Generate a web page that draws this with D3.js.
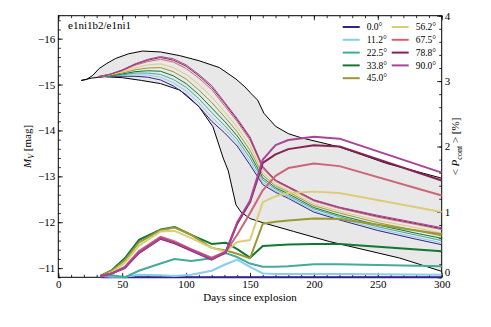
<!DOCTYPE html>
<html>
<head>
<meta charset="utf-8">
<script src="https://cdn.jsdelivr.net/npm/d3@7"></script>
<style>
  body { margin: 0; background: #fff; }
  svg { display: block; font-family: "Liberation Serif", "DejaVu Serif", serif; }
</style>
</head>
<body>
<svg id="chart"></svg>
<script>
// angles and colours
const angles = ["0.0°", "11.2°", "22.5°", "33.8°", "45.0°", "56.2°", "67.5°", "78.8°", "90.0°"];
const colors = ["#332288", "#88CCEE", "#44AA99", "#117733", "#999933", "#DDCC77", "#CC6677", "#882255", "#AA4499"];

// light curves M_V (left axis)
const lcDays = [31, 40, 50, 60, 70, 80, 90, 100, 110, 120, 130, 140, 150, 160, 170, 180, 200, 220, 250, 280, 300];
const lc00 = [-15.17, -15.18, -15.18, -15.18, -15.16, -15.10, -14.97, -14.78, -14.52, -14.20, -13.95, -13.66, -13.25, -12.82, -12.65, -12.52, -12.22, -12.05, -11.82, -11.63, -11.51];
const lc11 = [-15.17, -15.19, -15.20, -15.21, -15.21, -15.16, -15.04, -14.86, -14.60, -14.29, -14.03, -13.73, -13.32, -12.87, -12.68, -12.55, -12.25, -12.08, -11.86, -11.67, -11.55];
const lc22 = [-15.17, -15.19, -15.21, -15.25, -15.25, -15.22, -15.11, -14.94, -14.69, -14.39, -14.11, -13.80, -13.40, -12.92, -12.72, -12.58, -12.29, -12.12, -11.90, -11.72, -11.60];
const lc33 = [-15.17, -15.19, -15.23, -15.28, -15.30, -15.29, -15.19, -15.02, -14.78, -14.49, -14.20, -13.88, -13.48, -12.97, -12.75, -12.62, -12.32, -12.15, -11.94, -11.76, -11.65];
const lc45 = [-15.17, -15.20, -15.25, -15.32, -15.36, -15.37, -15.28, -15.12, -14.88, -14.61, -14.30, -13.97, -13.57, -13.03, -12.79, -12.66, -12.36, -12.20, -11.99, -11.82, -11.70];
const lc56 = [-15.17, -15.21, -15.28, -15.36, -15.43, -15.45, -15.37, -15.22, -15.00, -14.73, -14.41, -14.07, -13.67, -13.09, -12.83, -12.70, -12.40, -12.24, -12.04, -11.88, -11.76];
const lc67 = [-15.17, -15.22, -15.30, -15.42, -15.50, -15.55, -15.49, -15.35, -15.14, -14.89, -14.54, -14.19, -13.79, -13.17, -12.89, -12.75, -12.46, -12.30, -12.11, -11.95, -11.84];
const lc78 = [-15.17, -15.22, -15.31, -15.44, -15.53, -15.59, -15.53, -15.40, -15.19, -14.94, -14.59, -14.23, -13.83, -13.20, -12.91, -12.77, -12.48, -12.32, -12.13, -11.97, -11.86];
const lc90 = [-15.17, -15.22, -15.32, -15.45, -15.55, -15.61, -15.56, -15.43, -15.22, -14.98, -14.62, -14.26, -13.86, -13.22, -12.92, -12.78, -12.49, -12.33, -12.15, -11.99, -11.88];

// polarisation <P_cont> in % (right axis)
const polDays = [33, 42, 52, 63, 80, 91, 104, 120, 131, 140, 150, 160, 170, 180, 200, 220, 300];
const pol00 = [0, 0, 0, 0, 0, 0, 0, 0, 0, 0, 0, 0, 0, 0, 0, 0, 0];
const pol11 = [0.02, 0.01, 0.01, 0.04, 0.03, 0.02, 0.04, 0.10, 0.20, 0.27, 0.16, 0.06, 0.05, 0.05, 0.05, 0.05, 0.04];
const pol22 = [0.02, 0.03, 0.00, 0.10, 0.21, 0.28, 0.25, 0.29, 0.37, 0.31, 0.21, 0.16, 0.16, 0.17, 0.20, 0.20, 0.17];
const pol33 = [0.02, 0.11, 0.29, 0.57, 0.73, 0.77, 0.65, 0.51, 0.53, 0.43, 0.30, 0.48, 0.49, 0.50, 0.51, 0.51, 0.40];
const pol45 = [0.02, 0.10, 0.26, 0.53, 0.72, 0.76, 0.65, 0.45, 0.41, 0.36, 0.29, 0.82, 0.85, 0.87, 0.90, 0.89, 0.66];
const pol56 = [0.01, 0.08, 0.22, 0.48, 0.70, 0.71, 0.60, 0.45, 0.39, 0.54, 0.57, 1.15, 1.24, 1.29, 1.31, 1.29, 1.00];
const pol67 = [0.01, 0.06, 0.16, 0.40, 0.62, 0.55, 0.43, 0.30, 0.39, 0.65, 0.98, 1.33, 1.55, 1.67, 1.74, 1.70, 1.25];
const pol78 = [0.02, 0.06, 0.14, 0.37, 0.59, 0.52, 0.41, 0.27, 0.38, 0.82, 1.15, 1.75, 1.88, 1.96, 2.02, 2.00, 1.48];
const pol90 = [0.02, 0.06, 0.15, 0.38, 0.60, 0.53, 0.42, 0.28, 0.39, 0.84, 1.17, 1.80, 2.02, 2.10, 2.15, 2.12, 1.60];

// grey envelope (reference model range)
const envUpDays = [18, 22, 27, 32, 38, 45, 55, 66, 80, 95, 110, 126, 139, 146, 151, 156, 161, 170, 180, 190, 220, 257, 300];
const envUp = [-15.09, -15.11, -15.20, -15.35, -15.46, -15.57, -15.67, -15.73, -15.71, -15.63, -15.52, -15.37, -15.12, -14.95, -14.80, -14.66, -14.37, -14.09, -13.93, -13.84, -13.64, -13.28, -12.96];
const envLoDays = [18, 26, 36, 50, 65, 80, 95, 110, 121, 129, 133, 139, 143, 150, 160, 184, 212, 267, 300];
const envLo = [-15.09, -15.14, -15.17, -15.15, -15.09, -15.02, -14.88, -14.52, -14.08, -13.40, -13.12, -12.38, -12.22, -12.08, -11.99, -11.80, -11.58, -11.22, -10.93];

const xTicks = [0, 50, 100, 150, 200, 250, 300];
const yTicks = [-16, -15, -14, -13, -12, -11];
const pTicks = [0, 1, 2, 3, 4];

const lcSeries = [lc00, lc11, lc22, lc33, lc45, lc56, lc67, lc78, lc90];
const polSeries = [pol00, pol11, pol22, pol33, pol45, pol56, pol67, pol78, pol90];

const width = 491, height = 327;
const margin = { top: 15.7, right: 49.3, bottom: 49.7, left: 58.3 };

const svg = d3.select("#chart").attr("width", width).attr("height", height);

const x = d3.scaleLinear().domain([0, 300]).range([margin.left, width - margin.right]);
const y = d3.scaleLinear().domain([-10.8, -16.5]).range([height - margin.bottom, margin.top]);
const yr = d3.scaleLinear().domain([0, 4]).range([height - margin.bottom, margin.top]);

// envelope fill + outline
const envPts = envUpDays.map((d, i) => [x(d), y(envUp[i])])
  .concat(envLoDays.map((d, i) => [x(d), y(envLo[i])]).reverse());
svg.append("path")
  .attr("d", d3.line()(envPts) + "Z")
  .attr("fill", "#e8e8e8")
  .attr("stroke", "none");

const envLine = d3.line().x(d => x(d[0])).y(d => y(d[1]));
[[envUpDays, envUp], [envLoDays, envLo]].forEach(([days, vals]) => {
  svg.append("path")
    .attr("d", envLine(days.map((d, i) => [d, vals[i]])))
    .attr("fill", "none")
    .attr("stroke", "#000")
    .attr("stroke-width", 1);
});

// axes
const fmt = d3.format("d");
function minors(lo, hi, step) {
  const out = [];
  for (let v = lo; v <= hi + 1e-9; v += step) out.push(+v.toFixed(3));
  return out;
}

function styleAxis(g) {
  g.select(".domain").remove();
  g.selectAll("line").attr("stroke", "#000").attr("stroke-width", 0.8);
  g.selectAll("text").style("font-size", "11px").style("font-family", "Liberation Serif, serif").attr("fill", "#000");
}

// bottom
svg.append("g").attr("transform", `translate(0,${height - margin.bottom})`)
  .call(d3.axisBottom(x).tickValues(minors(0, 300, 10)).tickSize(-2.5).tickFormat(""))
  .call(styleAxis);
svg.append("g").attr("transform", `translate(0,${height - margin.bottom})`)
  .call(d3.axisBottom(x).tickValues(xTicks).tickSize(-4.5).tickPadding(3).tickFormat(fmt))
  .call(styleAxis);
// top
svg.append("g").attr("transform", `translate(0,${margin.top})`)
  .call(d3.axisTop(x).tickValues(minors(0, 300, 10)).tickSize(-2.5).tickFormat(""))
  .call(styleAxis);
svg.append("g").attr("transform", `translate(0,${margin.top})`)
  .call(d3.axisTop(x).tickValues(xTicks).tickSize(-4.5).tickFormat(""))
  .call(styleAxis);
// left
svg.append("g").attr("transform", `translate(${margin.left},0)`)
  .call(d3.axisLeft(y).tickValues(minors(-16.4, -10.8, 0.2)).tickSize(-2.5).tickFormat(""))
  .call(styleAxis);
svg.append("g").attr("transform", `translate(${margin.left},0)`)
  .call(d3.axisLeft(y).tickValues(yTicks).tickSize(-4.5).tickPadding(3).tickFormat(fmt))
  .call(styleAxis);
// right
svg.append("g").attr("transform", `translate(${width - margin.right},0)`)
  .call(d3.axisRight(yr).tickValues(minors(0, 4, 0.2)).tickSize(-2.5).tickFormat(""))
  .call(styleAxis);
svg.append("g").attr("transform", `translate(${width - margin.right},0)`)
  .call(d3.axisRight(yr).tickValues(pTicks).tickSize(-4.5).tickPadding(3).tickFormat(fmt))
  .call(styleAxis)
  .selectAll("text").attr("dy", d => d === 0 ? "-0.18em" : "0.3em");

// frame
svg.append("rect")
  .attr("x", margin.left).attr("y", margin.top)
  .attr("width", width - margin.left - margin.right)
  .attr("height", height - margin.top - margin.bottom)
  .attr("fill", "none").attr("stroke", "#000").attr("stroke-width", 1);

// light curves
const lcLine = d3.line().x((d, i) => x(lcDays[i])).y(d => y(d));
lcSeries.forEach((s, k) => {
  svg.append("path").attr("d", lcLine(s))
    .attr("fill", "none").attr("stroke", colors[k]).attr("stroke-width", 1);
});

// polarisation
const polLine = d3.line().x((d, i) => x(polDays[i])).y(d => yr(d));
polSeries.forEach((s, k) => {
  svg.append("path").attr("d", polLine(s))
    .attr("fill", "none").attr("stroke", colors[k]).attr("stroke-width", 2)
    .attr("stroke-linejoin", "round");
});

// labels
svg.append("text").attr("x", 68).attr("y", 29)
  .style("font-size", "11px").text("e1ni1b2/e1ni1");

svg.append("text")
  .attr("x", (margin.left + width - margin.right) / 2).attr("y", 301)
  .attr("text-anchor", "middle").style("font-size", "11px")
  .text("Days since explosion");

const yl = svg.append("text")
  .attr("transform", `translate(31,${(margin.top + height - margin.bottom) / 2}) rotate(-90)`)
  .attr("text-anchor", "middle").style("font-size", "11px");
yl.append("tspan").style("font-style", "italic").text("M");
yl.append("tspan").attr("dy", 2.5).style("font-size", "8px").style("font-style", "italic").text("V");
yl.append("tspan").attr("dy", -2.5).text(" [mag]");

const rl = svg.append("text")
  .attr("transform", `translate(459,${(margin.top + height - margin.bottom) / 2}) rotate(-90)`)
  .attr("text-anchor", "middle").style("font-size", "11px");
rl.append("tspan").text("< ");
rl.append("tspan").style("font-style", "italic").text("P");
rl.append("tspan").attr("dy", 2.5).style("font-size", "8px").text("cont");
rl.append("tspan").attr("dy", -2.5).text(" > [%]");

// legend
const legend = svg.append("g");
angles.forEach((a, i) => {
  const col = i < 5 ? 0 : 1;
  const row = i < 5 ? i : i - 5;
  const lx = col === 0 ? 342.7 : 391.7;
  const ly = 27 + row * 12.8;
  legend.append("line")
    .attr("x1", lx).attr("x2", lx + 17)
    .attr("y1", ly).attr("y2", ly)
    .attr("stroke", colors[i]).attr("stroke-width", 2);
  legend.append("text")
    .attr("x", lx + 24).attr("y", ly).attr("dy", "0.33em")
    .style("font-size", "9.5px").text(a);
});
</script>
</body>
</html>
